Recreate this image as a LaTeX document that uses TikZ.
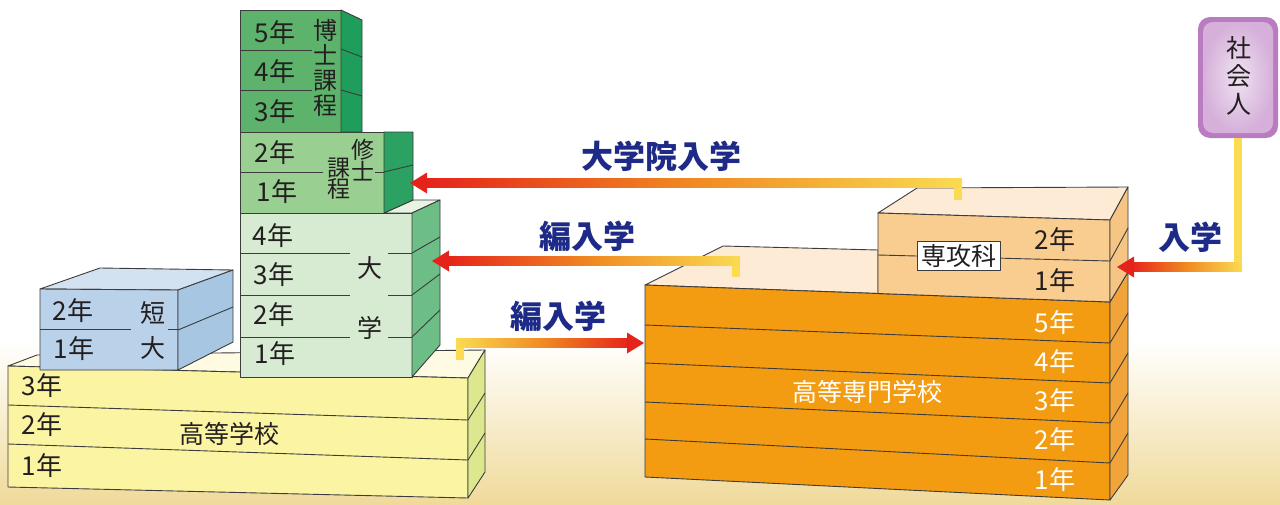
\documentclass[tikz,border=0pt]{standalone}
\usepackage{fontspec}
\setmainfont{Noto Sans CJK JP}
\usetikzlibrary{calc}
\definecolor{lineg}{HTML}{3C3C3C}
\definecolor{txt}{HTML}{231F20}
\definecolor{navy}{HTML}{1D2A87}
\definecolor{dF}{HTML}{5DB36C}
\definecolor{dS}{HTML}{1E9E5A}
\definecolor{mF}{HTML}{9ACF92}
\definecolor{mS}{HTML}{2BA262}
\definecolor{uF}{HTML}{D6EBD1}
\definecolor{uS}{HTML}{6CBD86}
\definecolor{uT}{HTML}{E8F3E4}
\definecolor{tF}{HTML}{B9D1E9}
\definecolor{tS}{HTML}{A7C6E2}
\definecolor{tT}{HTML}{D3E2F1}
\definecolor{hF}{HTML}{FBF4A2}
\definecolor{hS}{HTML}{DDE88E}
\definecolor{hT}{HTML}{FFFBE3}
\definecolor{kF}{HTML}{F39C12}
\definecolor{kS}{HTML}{F0A43A}
\definecolor{kT}{HTML}{FDEBD6}
\definecolor{sF}{HTML}{F9CC90}
\definecolor{sS}{HTML}{F6C583}
\definecolor{sT}{HTML}{FDEBD6}
\definecolor{ared}{HTML}{E5231B}
\definecolor{aorange}{HTML}{F08A22}
\definecolor{ayellow}{HTML}{FADB52}
\definecolor{pOut}{HTML}{BA7CC1}
\definecolor{pIn}{HTML}{EFE2F2}
\definecolor{bgglow}{HTML}{F0DA9A}
\begin{document}
\begin{tikzpicture}[x=1pt,y=-1pt,line join=round,
  edge/.style={draw=lineg,line width=0.9pt},
  yr/.style={font=\fontsize{26}{28}\selectfont,text=txt,inner sep=0pt},
  yw/.style={yr,text=white},
  vt/.style={font=\fontsize{24}{25}\selectfont,text=txt,inner sep=0pt,align=center},
  vts/.style={font=\fontsize{23}{21}\selectfont,text=txt,inner sep=0pt,align=center},
  lab/.style={font=\fontsize{25}{27}\selectfont,text=txt,inner sep=0pt},
  blue/.style={font=\fontsize{32}{34}\selectfont\bfseries,text=navy,inner sep=0pt}]
\useasboundingbox (0,0) rectangle (1280,504);
\fill[white] (0,0) rectangle (1280,504);
\shade[top color=white,bottom color=bgglow] (0,340) rectangle (1280,504);

% ---------- high school ----------
\filldraw[edge,fill=hT] (8,366) -- (37,355) -- (485,350) -- (468,378) -- cycle;
\filldraw[edge,fill=hF] (8,366) -- (468,378) -- (468,498) -- (8,487) -- cycle;
\draw[edge] (8,405) -- (468,420) (8,444) -- (468,460);
\filldraw[edge,fill=hS] (468,378) -- (485,350) -- (485,472) -- (468,498) -- cycle;
\draw[edge] (468,420) -- (485,393) (468,460) -- (485,433);
\node[yr] (h3) at (42,386) {3年};
\node[yr] (h2) at (42,425) {2年};
\node[yr] (h1) at (42,466) {1年};
\node[lab] (hs) at (229,434) {高等学校};

% ---------- junior college ----------
\filldraw[edge,fill=tT] (40,289) -- (100,268) -- (233,270) -- (178,290) -- cycle;
\filldraw[edge,fill=tF] (40,289) -- (178,290) -- (178,370) -- (40,370) -- cycle;
\draw[edge] (40,329) -- (131,329) (168,329) -- (178,329);
\filldraw[edge,fill=tS] (178,290) -- (233,270) -- (233,342) -- (178,370) -- cycle;
\draw[edge] (178,330) -- (233,307);
\node[yr] (t2) at (73,311) {2年};
\node[yr] (t1) at (74,349) {1年};
\node[lab] (tn1) at (153,313) {短};
\node[lab] (tn2) at (153,348) {大};

% ---------- university ----------
\filldraw[edge,fill=uT] (384,213) -- (412,213) -- (440,200) -- (413,200) -- cycle;
\filldraw[edge,fill=uF] (240,213) -- (412,213) -- (412,377) -- (240,377) -- cycle;
\draw[edge] (240,253) -- (350,253) (388,253) -- (412,253)
            (240,295) -- (350,295) (388,295) -- (412,295)
            (240,337) -- (350,337) (388,337) -- (412,337);
\filldraw[edge,fill=uS] (412,213) -- (440,200) -- (440,345) -- (412,377) -- cycle;
\draw[edge] (412,253) -- (440,237) (412,295) -- (440,274) (412,337) -- (440,310);
\node[yr] (u4) at (273,236) {4年};
\node[yr] (u3) at (274,275) {3年};
\node[yr] (u2) at (274,315) {2年};
\node[yr] (u1) at (275,354) {1年};
\node[lab] (un1) at (370,268) {大};
\node[lab] (un2) at (370,328) {学};

% ---------- master ----------
\filldraw[edge,fill=mF] (240,132) -- (384,132) -- (384,213) -- (240,213) -- cycle;
\draw[edge] (240,172) -- (323,172) (375,172) -- (384,172);
\filldraw[edge,fill=mS] (384,132) -- (413,132) -- (413,200) -- (384,213) -- cycle;
\draw[edge] (384,172) -- (413,165);
\node[yr] (m2) at (275,153) {2年};
\node[yr] (m1) at (277,192) {1年};
\node[vts] (mn1) at (363,160) {修\\士};
\node[vts] (mn2) at (339,179) {課\\程};

% ---------- doctor ----------
\filldraw[edge,fill=dF] (240,10) -- (341,10) -- (341,132) -- (240,132) -- cycle;
\draw[edge] (240,50) -- (312,50) (240,90) -- (312,90);
\filldraw[edge,fill=dS] (341,10) -- (362,20) -- (362,132) -- (341,132) -- cycle;
\draw[edge] (341,49) -- (362,57) (341,90) -- (362,96);
\node[yr] (d5) at (275,33) {5年};
\node[yr] (d4) at (275,72) {4年};
\node[yr] (d3) at (275,112) {3年};
\node[vt] (dn) at (325,68) {博\\士\\課\\程};

% ---------- kosen ----------
\filldraw[edge,fill=kT] (645,285) -- (723,246) -- (878,250) -- (878,293.5) -- cycle;
\filldraw[edge,fill=kF] (645,285) -- (1110,302) -- (1110,500) -- (645,477) -- cycle;
\draw[edge] (645,325) -- (1110,343) (645,363) -- (1110,383)
            (645,402) -- (1110,423) (645,439) -- (1110,463);
\filldraw[edge,fill=kS] (1110,302) -- (1128,272) -- (1128,475) -- (1110,500) -- cycle;
\draw[edge] (1110,343) -- (1128,313) (1110,383) -- (1128,353)
            (1110,423) -- (1128,393) (1110,463) -- (1128,433);
\node[yw] (k5) at (1055,323) {5年};
\node[yw] (k4) at (1055,362) {4年};
\node[yw] (k3) at (1055,401) {3年};
\node[yw] (k2) at (1055,440) {2年};
\node[yw] (k1) at (1055,480) {1年};
\node[lab,text=white] (kn) at (867,392) {高等専門学校};

% ---------- senkoka ----------
\filldraw[edge,fill=sT] (878,213) -- (917,188) -- (1128,187) -- (1110,220) -- cycle;
\filldraw[edge,fill=sF] (878,213) -- (1110,220) -- (1110,302) -- (878,293.5) -- cycle;
\draw[edge] (878,255) -- (1110,261);
\filldraw[edge,fill=sS] (1110,220) -- (1128,187) -- (1128,272) -- (1110,302) -- cycle;
\draw[edge] (1110,261) -- (1128,228);
\node[yr] (s2) at (1055,240) {2年};
\node[yr] (s1) at (1055,281) {1年};
\node[lab,draw=lineg,line width=0.9pt,fill=white,inner xsep=4pt,inner ysep=3pt] (sk) at (959,256) {専攻科};

% ---------- shakaijin ----------
\node[fill=pOut,rounded corners=12pt,minimum width=80,minimum height=121,inner sep=0pt] (shakai) at (1238,77.5) {};
\shade[inner color=pIn,outer color=pOut!60,rounded corners=10pt] (1203,22) rectangle (1273,133);
\node[font=\fontsize{25}{28}\selectfont,text=txt,inner sep=0pt,align=center] (shtxt) at (1239,76) {社\\会\\人};

% ---------- arrows ----------
% 大学院入学
\coordinate (a1s) at (958,200);
\coordinate (a1c) at (958,183);
\coordinate (a1t) at (410,183);
\fill[ayellow] ($(a1s)+(-4,0)$) rectangle ($(a1c)+(4,-4.5)$);
\shade[left color=ared,right color=ayellow,middle color=aorange] ($(a1t)+(14,-4.5)$) rectangle ($(a1c)+(4,4.5)$);
\fill[ared] (a1t) -- ++(17,-10.5) -- ++(0,21) -- cycle;
\node[blue] (l1) at (661,156) {大学院入学};
% 編入学 (upper)
\coordinate (a2s) at (736,277);
\coordinate (a2c) at (736,261);
\coordinate (a2t) at (432,261);
\fill[ayellow] ($(a2s)+(-4,0)$) rectangle ($(a2c)+(4,-4.5)$);
\shade[left color=ared,right color=ayellow,middle color=aorange] ($(a2t)+(14,-4.5)$) rectangle ($(a2c)+(4,4.5)$);
\fill[ared] (a2t) -- ++(17,-10.5) -- ++(0,21) -- cycle;
\node[blue] (l2) at (587,236) {編入学};
% 編入学 (lower)
\coordinate (a3s) at (460,360);
\coordinate (a3c) at (460,343);
\coordinate (a3t) at (644,343);
\fill[ayellow] ($(a3s)+(-4,0)$) rectangle ($(a3c)+(4,-4.5)$);
\shade[left color=ayellow,right color=ared,middle color=aorange] ($(a3c)+(-4,-4.5)$) rectangle ($(a3t)+(-14,4.5)$);
\fill[ared] (a3t) -- ++(-17,-10.5) -- ++(0,21) -- cycle;
\node[blue] (l3) at (558,316) {編入学};
% 入学
\coordinate (a4c) at (shakai.south |- 0,267);
\coordinate (a4t) at (1117,267);
\fill[ayellow] ($(shakai.south)+(-4,0)$) rectangle ($(a4c)+(4,-4.5)$);
\shade[left color=ared,right color=ayellow,middle color=aorange] ($(a4t)+(14,-4.5)$) rectangle ($(a4c)+(4,4.5)$);
\fill[ared] (a4t) -- ++(17,-10.5) -- ++(0,21) -- cycle;
\node[blue] (l4) at (1190,237) {入学};
\end{tikzpicture}
\end{document}
